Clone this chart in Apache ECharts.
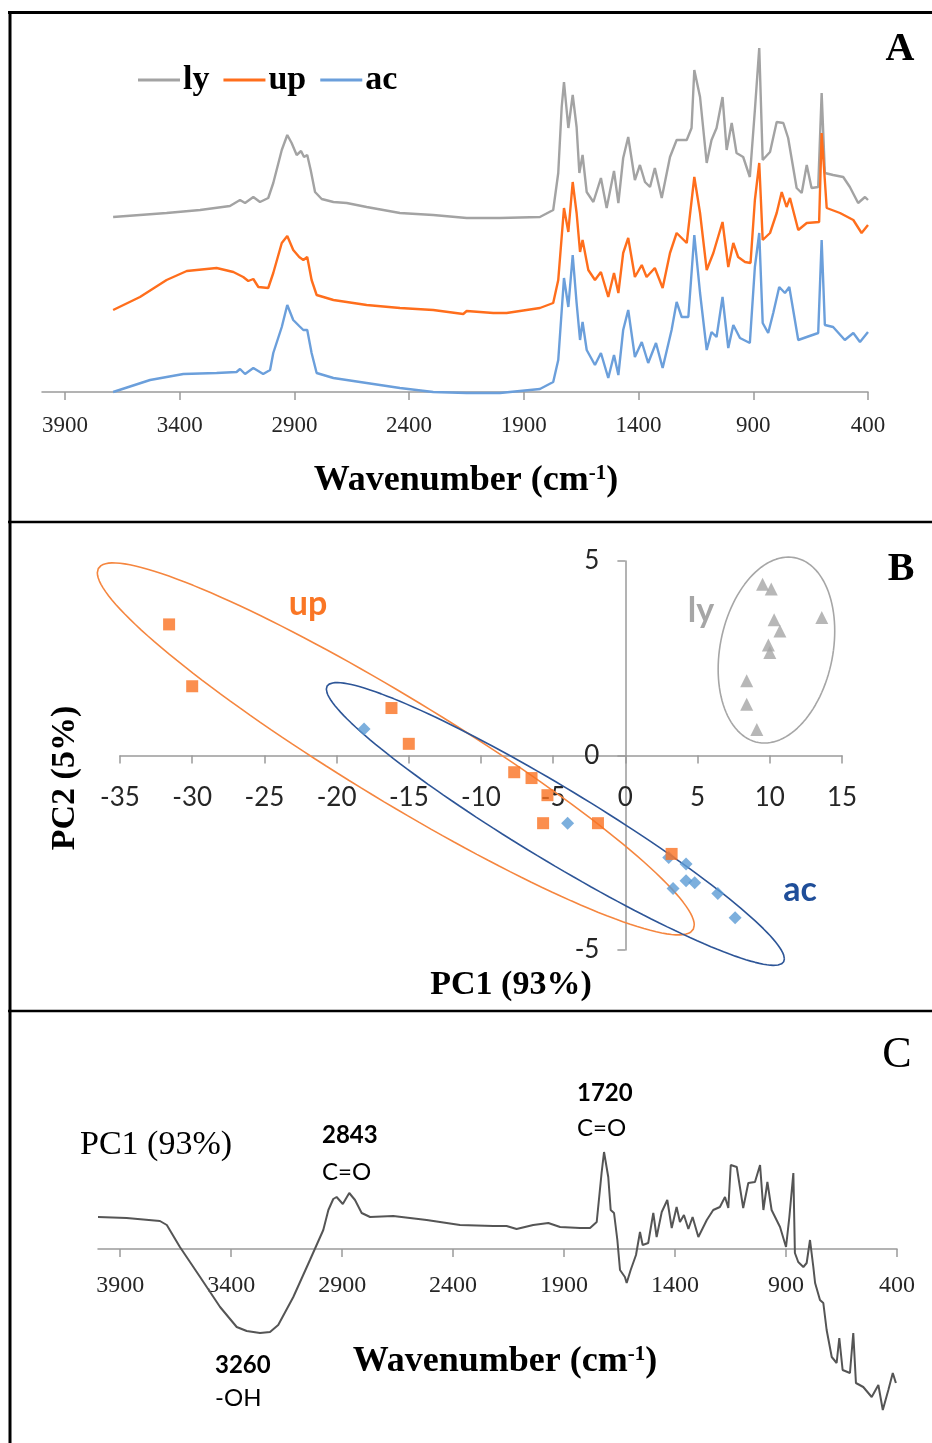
<!DOCTYPE html>
<html>
<head>
<meta charset="utf-8">
<script src="https://cdn.jsdelivr.net/npm/echarts@6/dist/echarts.min.js"></script>
<style>html,body{margin:0;padding:0;background:#fff}#c{width:932px;height:1443px}</style>
</head>
<body>
<div id="c"></div>
<script>
// ---------- DATA ----------
const wnTicks = [3900, 3400, 2900, 2400, 1900, 1400, 900, 400];

// Panel A: FTIR spectra [wavenumber cm-1, absorbance a.u. (offset)]
const lySpectrum = [[3690,1.75],[3457,1.79],[3311,1.82],[3181,1.86],[3137,1.92],[3115,1.89],[3079,1.95],[3050,1.90],[3014,1.94],[2992,2.09],[2955,2.42],[2931,2.57],[2912,2.49],[2890,2.37],[2871,2.41],[2858,2.35],[2844,2.37],[2829,2.22],[2810,2.00],[2781,1.93],[2730,1.90],[2672,1.89],[2585,1.85],[2440,1.79],[2295,1.77],[2149,1.74],[2004,1.74],[1830,1.75],[1772,1.82],[1750,2.19],[1735,2.85],[1725,3.10],[1706,2.64],[1687,2.97],[1670,2.65],[1658,2.19],[1644,2.37],[1626,2.00],[1597,1.90],[1564,2.14],[1539,1.84],[1507,2.21],[1488,1.89],[1467,2.34],[1445,2.55],[1416,2.12],[1394,2.27],[1372,2.10],[1350,2.05],[1329,2.24],[1299,1.94],[1263,2.35],[1234,2.52],[1190,2.52],[1169,2.64],[1157,3.22],[1132,2.95],[1103,2.29],[1082,2.52],[1060,2.64],[1034,2.95],[1016,2.42],[994,2.69],[973,2.39],[944,2.35],[915,2.15],[893,2.82],[874,3.44],[859,2.32],[827,2.40],[798,2.70],[769,2.69],[748,2.54],[711,2.04],[689,1.99],[667,2.27],[646,2.04],[617,2.05],[602,2.99],[588,2.19],[552,2.17],[508,2.15],[479,2.05],[443,1.89],[413,1.95],[400,1.92]];
const upSpectrum = [[3690,0.82],[3573,0.95],[3457,1.12],[3369,1.21],[3239,1.24],[3166,1.20],[3123,1.15],[3101,1.11],[3079,1.13],[3057,1.05],[3014,1.04],[2992,1.19],[2955,1.49],[2931,1.56],[2905,1.42],[2879,1.35],[2861,1.32],[2844,1.35],[2825,1.12],[2803,0.97],[2730,0.92],[2585,0.87],[2440,0.84],[2295,0.82],[2164,0.78],[2149,0.81],[2033,0.79],[1975,0.79],[1830,0.84],[1772,0.89],[1750,1.12],[1725,1.84],[1706,1.60],[1687,2.10],[1670,1.79],[1655,1.40],[1644,1.52],[1619,1.22],[1590,1.12],[1564,1.20],[1532,0.95],[1507,1.19],[1488,0.99],[1467,1.39],[1445,1.54],[1416,1.15],[1386,1.27],[1365,1.15],[1329,1.24],[1295,1.04],[1263,1.39],[1234,1.59],[1190,1.49],[1157,2.15],[1132,1.79],[1103,1.22],[1074,1.39],[1034,1.70],[1009,1.25],[987,1.49],[966,1.35],[936,1.30],[912,1.29],[893,1.92],[874,2.29],[859,1.52],[827,1.59],[798,1.79],[776,2.00],[755,1.85],[740,1.94],[704,1.62],[667,1.69],[613,1.70],[602,2.59],[580,1.84],[522,1.79],[464,1.72],[428,1.59],[400,1.67]];
const acSpectrum = [[3690,0.00],[3529,0.12],[3384,0.18],[3239,0.19],[3152,0.20],[3137,0.23],[3115,0.18],[3079,0.24],[3036,0.18],[3006,0.22],[2992,0.39],[2955,0.65],[2931,0.87],[2905,0.72],[2879,0.66],[2861,0.62],[2844,0.62],[2825,0.39],[2803,0.19],[2730,0.14],[2585,0.09],[2440,0.04],[2295,0.00],[2149,-0.01],[2004,-0.01],[1830,0.03],[1772,0.10],[1750,0.32],[1725,1.14],[1706,0.85],[1687,1.37],[1670,0.89],[1655,0.52],[1644,0.70],[1626,0.42],[1590,0.27],[1564,0.39],[1532,0.14],[1507,0.37],[1488,0.17],[1467,0.62],[1445,0.82],[1416,0.35],[1386,0.50],[1358,0.29],[1324,0.49],[1295,0.24],[1256,0.62],[1234,0.90],[1212,0.75],[1183,0.75],[1157,1.57],[1132,0.99],[1103,0.42],[1082,0.60],[1060,0.55],[1034,0.95],[1009,0.44],[987,0.67],[958,0.54],[915,0.49],[893,1.25],[874,1.59],[859,0.69],[835,0.59],[813,0.79],[787,1.05],[762,0.99],[743,1.05],[704,0.52],[667,0.55],[617,0.59],[602,1.52],[588,0.67],[552,0.65],[501,0.52],[464,0.59],[435,0.50],[400,0.60]];

// Panel B: PCA scores [PC1, PC2]
const upScores = [[-31.6,3.37],[-30.0,1.78],[-16.2,1.22],[-15.0,0.30],[-7.7,-0.43],[-6.5,-0.58],[-5.4,-1.02],[-5.7,-1.74],[-1.9,-1.74],[3.2,-2.53]];
const acScores = [[-18.1,0.68],[-4.0,-1.74],[3.0,-2.62],[4.2,-2.79],[4.2,-3.22],[4.8,-3.27],[3.3,-3.42],[6.4,-3.55],[7.6,-4.17]];
const lyScores = [[9.5,4.40],[10.1,4.28],[10.3,3.49],[10.7,3.20],[13.6,3.55],[9.9,2.84],[10.0,2.65],[8.4,1.92],[8.4,1.32],[9.1,0.67]];
const pcRangeX = [-35, 15, 5];   // min, max, step
const pcRangeY = [-5, 5, 5];

// Confidence ellipses in score units
const upEllipse = {cx: -15.9, cy: 0.17, w: 20.67, slope: -0.219, h: 1.54, shear: 0};
const acEllipse = {cx: -4.85, cy: -1.76, w: 15.86, slope: -0.2186, h: 1.09, shear: 0};
const lyEllipse = {cx: 10.46, cy: 2.71, w: 3.95, slope: 0, h: 2.39, shear: 0.83};

// Panel C: PC1 loadings [wavenumber, loading]
const pc1Loadings = [[4000,0.32],[3871,0.31],[3721,0.28],[3690,0.24],[3631,0.02],[3540,-0.28],[3450,-0.58],[3375,-0.78],[3330,-0.82],[3270,-0.84],[3225,-0.83],[3188,-0.76],[3120,-0.48],[3045,-0.11],[2985,0.19],[2962,0.39],[2940,0.50],[2925,0.52],[2897,0.45],[2868,0.56],[2842,0.49],[2812,0.36],[2774,0.32],[2670,0.33],[2519,0.29],[2369,0.24],[2219,0.23],[2159,0.23],[2114,0.20],[2039,0.24],[1971,0.26],[1918,0.22],[1828,0.21],[1783,0.21],[1753,0.27],[1731,0.76],[1720,0.97],[1701,0.72],[1690,0.39],[1675,0.36],[1660,0.09],[1648,-0.21],[1626,-0.28],[1618,-0.34],[1600,-0.21],[1576,-0.06],[1558,0.17],[1546,0.04],[1521,0.06],[1498,0.36],[1483,0.12],[1460,0.37],[1435,0.49],[1415,0.21],[1393,0.42],[1378,0.27],[1360,0.34],[1340,0.20],[1321,0.32],[1295,0.12],[1257,0.29],[1228,0.39],[1198,0.42],[1175,0.52],[1160,0.41],[1149,0.84],[1122,0.82],[1093,0.41],[1070,0.66],[1040,0.67],[1017,0.84],[1002,0.39],[984,0.67],[965,0.39],[927,0.22],[900,0.02],[885,0.32],[867,0.76],[860,-0.04],[845,-0.13],[822,-0.18],[807,-0.14],[792,0.09],[777,-0.18],[769,-0.34],[747,-0.51],[732,-0.54],[717,-0.81],[694,-1.08],[672,-1.14],[660,-0.89],[645,-1.21],[612,-1.24],[597,-0.84],[585,-1.34],[552,-1.38],[514,-1.48],[484,-1.36],[464,-1.61],[439,-1.41],[419,-1.24],[405,-1.34]];

// ---------- HELPERS ----------
function ellipsePoints(e, n) {
  const pts = [];
  for (let i = 0; i <= n; i++) {
    const t = 2 * Math.PI * i / n;
    pts.push([e.cx + e.w * Math.cos(t) + e.shear * Math.sin(t),
              e.cy + e.slope * e.w * Math.cos(t) + e.h * Math.sin(t)]);
  }
  return pts;
}
const SERIF = "'Liberation Serif', 'Times New Roman', serif";
const SANS = "Lato, 'Noto Sans', sans-serif";
const axisGray = '#9a9a9a';
const plain = v => String(v);

function txt(x, y, text, o) {
  o = o || {};
  return {
    type: 'text', x: x, y: y, rotation: o.rotation || 0, z: 100,
    style: {
      text: text, fill: o.color || '#000',
      fontFamily: o.family || SERIF, fontSize: o.size || 24,
      fontWeight: o.weight || 'normal',
      align: o.align || 'left', verticalAlign: 'middle',
      textAlign: o.align || 'left', textVerticalAlign: 'middle',
      rich: o.rich
    }
  };
}
function hline(x1, x2, y, w) {
  return {type: 'line', z: 100, shape: {x1: x1, y1: y, x2: x2, y2: y}, style: {stroke: '#000', lineWidth: w}};
}
function vline(x, y1, y2, w) {
  return {type: 'line', z: 100, shape: {x1: x, y1: y1, x2: x, y2: y2}, style: {stroke: '#000', lineWidth: w}};
}
const waveRich = {
  a: {fontFamily: SERIF, fontSize: 36, fontWeight: 'bold', fill: '#000', color: '#000'},
  s: {fontFamily: SERIF, fontSize: 21, fontWeight: 'bold', fill: '#000', color: '#000', verticalAlign: 'top', padding: [0, 0, 12, 0]}
};

const spectraAxis = (gridIndex, margin, fs, offset) => ({
  type: 'value', gridIndex: gridIndex, min: 400, max: 4000, inverse: true,
  position: 'bottom', offset: offset,
  axisLine: {show: true, onZero: false, lineStyle: {color: axisGray, width: 1.5}},
  axisTick: {show: true, customValues: wnTicks, length: 8, lineStyle: {color: axisGray, width: 1.5}},
  axisLabel: {customValues: wnTicks, formatter: plain, margin: margin, fontFamily: SERIF, fontSize: fs, color: '#262626'},
  splitLine: {show: false}
});

// ---------- CHART ----------
// Grid B geometry: zero of each axis lies inside the plot, axes are shifted there with offsets
const gB = {left: 120, right: 90, top: 561, height: 389};
const gBwidth = 932 - gB.left - gB.right;
const xZeroOffset = -gB.height * (0 - pcRangeY[0]) / (pcRangeY[1] - pcRangeY[0]);
const yZeroOffset = -gBwidth * (0 - pcRangeX[0]) / (pcRangeX[1] - pcRangeX[0]);
const pxPerX = gBwidth / (pcRangeX[1] - pcRangeX[0]);
const pxPerY = gB.height / (pcRangeY[1] - pcRangeY[0]);
// wider hidden frame (same scale) for the ellipses which reach past the axes
const ellX = [-40, 15], ellY = [-6, 5];
const gC = {left: 98, right: 35, top: 1099, height: 330};
const cRange = [-1.8, 1.5];

const chart = echarts.init(document.getElementById('c'), null, {renderer: 'canvas'});
chart.setOption({
  animation: false,
  backgroundColor: '#fff',
  grid: [
    {left: 42, right: 64, top: 40, height: 352},
    {left: gB.left, right: gB.right, top: gB.top, height: gB.height},
    {left: gC.left, right: gC.right, top: gC.top, height: gC.height},
    {left: gB.left - (pcRangeX[0] - ellX[0]) * pxPerX, right: gB.right, top: gB.top - (ellY[1] - pcRangeY[1]) * pxPerY,
     height: (ellY[1] - ellY[0]) * pxPerY}
  ],
  xAxis: [
    spectraAxis(0, 22, 23, 0),
    {
      type: 'value', gridIndex: 1, min: pcRangeX[0], max: pcRangeX[1], interval: pcRangeX[2],
      position: 'bottom', offset: xZeroOffset,
      axisLine: {show: true, onZero: false, lineStyle: {color: axisGray, width: 1.5}},
      axisTick: {show: true, length: 8, lineStyle: {color: axisGray, width: 1.5}},
      axisLabel: {margin: 29, formatter: plain, fontFamily: SANS, fontSize: 26, color: '#262626'},
      splitLine: {show: false}
    },
    spectraAxis(2, 25, 24, -gC.height * (0 - cRange[0]) / (cRange[1] - cRange[0])),
    {type: 'value', gridIndex: 3, min: ellX[0], max: ellX[1], show: false, splitLine: {show: false}}
  ],
  yAxis: [
    {type: 'value', gridIndex: 0, min: 0, max: 3.52, show: false, splitLine: {show: false}},
    {
      type: 'value', gridIndex: 1, min: pcRangeY[0], max: pcRangeY[1], interval: pcRangeY[2],
      position: 'left', offset: yZeroOffset,
      axisLine: {show: true, onZero: false, lineStyle: {color: axisGray, width: 1.5}},
      axisTick: {show: true, length: 8, lineStyle: {color: axisGray, width: 1.5}},
      axisLabel: {margin: 26, formatter: plain, fontFamily: SANS, fontSize: 26, color: '#262626'},
      splitLine: {show: false}
    },
    {type: 'value', gridIndex: 2, min: cRange[0], max: cRange[1], show: false, splitLine: {show: false}},
    {type: 'value', gridIndex: 3, min: ellY[0], max: ellY[1], show: false, splitLine: {show: false}}
  ],
  legend: {
    data: ['ly', 'up', 'ac'], left: 133, top: 58, icon: 'rect', itemWidth: 42, itemHeight: 3,
    itemGap: 14,
    textStyle: {fontFamily: SERIF, fontSize: 34, fontWeight: 'bold', color: '#000', padding: [0, 0, 0, -2]}
  },
  series: [
    {name: 'ly', type: 'line', xAxisIndex: 0, yAxisIndex: 0, data: lySpectrum, showSymbol: false, symbol: 'none', clip: false, color: '#A3A3A3', lineStyle: {width: 2.4, color: '#A3A3A3'}},
    {name: 'up', type: 'line', xAxisIndex: 0, yAxisIndex: 0, data: upSpectrum, showSymbol: false, symbol: 'none', clip: false, color: '#FF6E1C', lineStyle: {width: 2.4, color: '#FF6E1C'}},
    {name: 'ac', type: 'line', xAxisIndex: 0, yAxisIndex: 0, data: acSpectrum, showSymbol: false, symbol: 'none', clip: false, color: '#6B9FDB', lineStyle: {width: 2.4, color: '#6B9FDB'}},

    {name: 'up ellipse', type: 'line', xAxisIndex: 3, yAxisIndex: 3, data: ellipsePoints(upEllipse, 160), showSymbol: false, symbol: 'none', clip: false, z: 2, lineStyle: {width: 1.6, color: '#F5863F'}},
    {name: 'ac ellipse', type: 'line', xAxisIndex: 3, yAxisIndex: 3, data: ellipsePoints(acEllipse, 160), showSymbol: false, symbol: 'none', clip: false, z: 2, lineStyle: {width: 1.6, color: '#2D5597'}},
    {name: 'ly ellipse', type: 'line', xAxisIndex: 3, yAxisIndex: 3, data: ellipsePoints(lyEllipse, 120), showSymbol: false, symbol: 'none', clip: false, z: 2, lineStyle: {width: 1.6, color: '#A6A6A6'}},
    {name: 'ly scores', type: 'scatter', xAxisIndex: 1, yAxisIndex: 1, data: lyScores, symbol: 'triangle', symbolSize: 13, z: 3, itemStyle: {color: '#A5A5A5'}},
    {name: 'ac scores', type: 'scatter', xAxisIndex: 1, yAxisIndex: 1, data: acScores, symbol: 'diamond', symbolSize: 13, z: 3, itemStyle: {color: '#5B9BD5'}},
    {name: 'up scores', type: 'scatter', xAxisIndex: 1, yAxisIndex: 1, data: upScores, symbol: 'rect', symbolSize: 12, z: 4, itemStyle: {color: '#FA7222'}},

    {name: 'PC1 loadings', type: 'line', xAxisIndex: 2, yAxisIndex: 2, data: pc1Loadings, showSymbol: false, symbol: 'none', clip: false, lineStyle: {width: 2, color: '#555555'}}
  ],
  graphic: [
    // frame
    hline(8, 932, 12.5, 3),
    vline(10, 11, 1443, 3),
    hline(8, 932, 522, 2.5),
    hline(8, 932, 1011, 2.5),
    // panel A
    txt(900, 50, 'A', {size: 40, weight: 'bold', align: 'center'}),
    txt(466, 481, '{a|Wavenumber (cm}{s|-1}{a|)}', {align: 'center', size: 36, weight: 'bold', rich: waveRich}),
    // panel B
    txt(901, 570, 'B', {size: 40, weight: 'bold', align: 'center'}),
    txt(308, 604, 'up', {family: SANS, size: 34, weight: 'bold', color: '#FA7625', align: 'center'}),
    txt(701, 611, 'ly', {family: SANS, size: 34, weight: 'bold', color: '#A6A6A6', align: 'center'}),
    txt(800, 890, 'ac', {family: SANS, size: 34, weight: 'bold', color: '#1F4E99', align: 'center'}),
    txt(511, 985, 'PC1 (93%)', {size: 34, weight: 'bold', align: 'center'}),
    txt(65, 778, 'PC2 (5%)', {size: 34, weight: 'bold', align: 'center', rotation: Math.PI / 2}),
    // panel C
    txt(897, 1055, 'C', {size: 44, align: 'center'}),
    txt(80, 1145, 'PC1 (93%)', {size: 34}),
    txt(322, 1135, '2843', {family: SANS, size: 24, weight: 'bold'}),
    txt(322, 1172, 'C=O', {family: SANS, size: 24}),
    txt(577, 1093, '1720', {family: SANS, size: 24, weight: 'bold'}),
    txt(577, 1128, 'C=O', {family: SANS, size: 24}),
    txt(215, 1365, '3260', {family: SANS, size: 24, weight: 'bold'}),
    txt(215, 1398, '-OH', {family: SANS, size: 24}),
    txt(505, 1362, '{a|Wavenumber (cm}{s|-1}{a|)}', {align: 'center', size: 36, weight: 'bold', rich: waveRich})
  ]
});
</script>
</body>
</html>
